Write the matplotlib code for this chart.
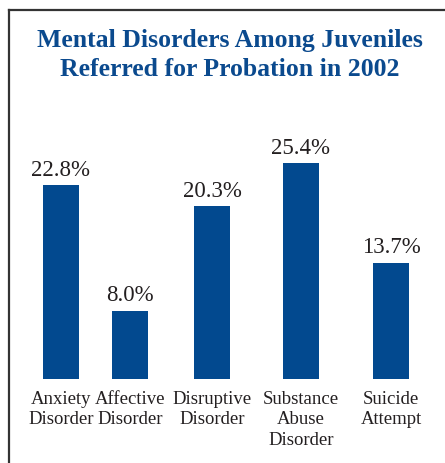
import matplotlib
matplotlib.use("Agg")
import matplotlib.pyplot as plt
from matplotlib.lines import Line2D

# data
categories = ["Anxiety\nDisorder", "Affective\nDisorder", "Disruptive\nDisorder",
              "Substance\nAbuse\nDisorder", "Suicide\nAttempt"]
values = [22.8, 8.0, 20.3, 25.4, 13.7]
labels = ["22.8%", "8.0%", "20.3%", "25.4%", "13.7%"]

# layout (slot positions of the bars, not evenly spaced in the original)
slots = [0, 0.836, 1.83, 2.909, 4.0]

bar_color = "#02498f"
title_color = "#0b4a8e"
text_color = "#231f20"
serif = ["Liberation Serif", "DejaVu Serif"]

W, H = 445, 464
fig = plt.figure(figsize=(W / 100, H / 100), dpi=100)

# axes: bottom of bars at y=380px from top, scale ~8.5 px per percent
bottom_px = 380
top_px = 100
ax = fig.add_axes([0, (H - bottom_px) / H, 1, (bottom_px - top_px) / H])
ax.bar(slots, values, width=0.436, color=bar_color)
ax.set_xlim(-61 / 82.5, (W - 61) / 82.5)
ax.set_ylim(0, (bottom_px - top_px) / 8.5)
ax.axis("off")

for x, v, lab in zip(slots, values, labels):
    ax.annotate(lab, (x, v), xytext=(0, 4), textcoords="offset points",
                ha="center", va="bottom", fontsize=16.5, family=serif,
                color=text_color)

for x, cat in zip(slots, categories):
    ax.annotate(cat, (x, 0), xytext=(0, -8), textcoords="offset points",
                ha="center", va="top", fontsize=13.5, family=serif,
                color=text_color, linespacing=1.25, annotation_clip=False)

fig.text(230 / W, 1 - 55 / H,
         "Mental Disorders Among Juveniles\nReferred for Probation in 2002",
         ha="center", va="center", fontsize=18.5, fontweight="bold",
         family=serif, color=title_color, linespacing=1.35)

# frame (only left and top edges are visible)
fy = 1 - 11 / H
fx = 8.5 / W
fig.add_artist(Line2D([fx, fx], [0, fy], transform=fig.transFigure,
                      color="#333333", linewidth=1.6))
fig.add_artist(Line2D([fx, 1], [fy, fy], transform=fig.transFigure,
                      color="#333333", linewidth=1.6))

fig.savefig("out.png", dpi=100)
